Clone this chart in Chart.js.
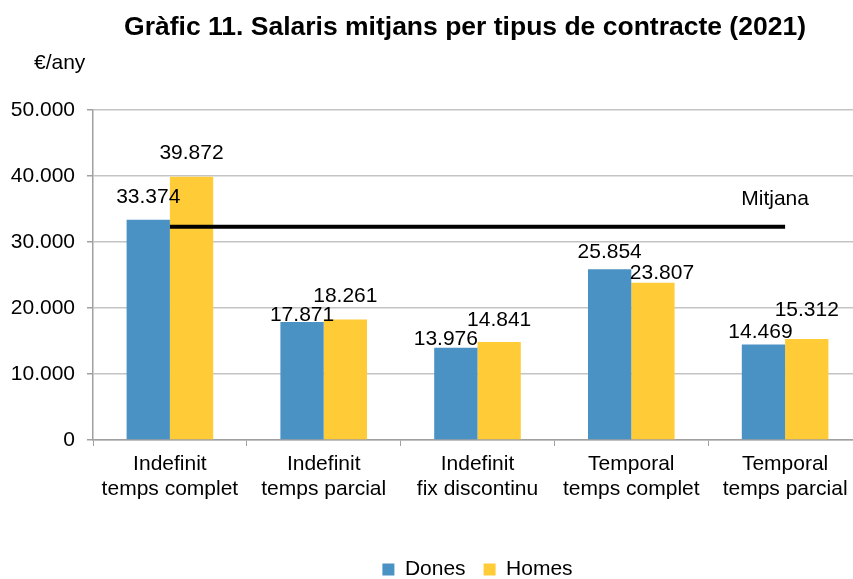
<!DOCTYPE html>
<html>
<head>
<meta charset="utf-8">
<script src="https://cdn.jsdelivr.net/npm/chart.js@4"></script>
<style>
  html, body { margin: 0; padding: 0; background: #fff; overflow: hidden; }
  #wrap { width: 930px; height: 590px; position: relative; }
</style>
</head>
<body>
<div id="wrap"><canvas id="grafic"></canvas></div>
<script>
// =====================================
// DADES
// =====================================

const categories = [
    ["Indefinit", "temps complet"],
    ["Indefinit", "temps parcial"],
    ["Indefinit", "fix discontinu"],
    ["Temporal", "temps complet"],
    ["Temporal", "temps parcial"]
];
const dones = [33374, 17871, 13976, 25854, 14469];
const homes = [39872, 18261, 14841, 23807, 15312];
const mitjana = [32300, 32300, 32300, 32300, 32300];
const yTicks = [0, 10000, 20000, 30000, 40000, 50000];

// petits desplaçaments manuals de les etiquetes (dx, alçada sobre la barra)
const ajustDones = [[0, 23], [0, 7], [-10, 9], [0, 17], [-3, 12]];
const ajustHomes = [[0, 24], [0, 23], [0, 22], [9, 10], [0, 29]];

const FONT = "'Liberation Sans', Arial, sans-serif";

function formatMiles(v) {
    return String(v).replace(/\B(?=(\d{3})+(?!\d))/g, ".");
}

// =====================================
// TEXTOS EXTRA (titol, unitat, etiquetes)
// =====================================

const textosPlugin = {
    id: "textos",
    afterDatasetsDraw(chart) {
        const ctx = chart.ctx;
        const area = chart.chartArea;
        ctx.save();
        ctx.fillStyle = "#000";
        ctx.textBaseline = "middle";

        // titol
        ctx.font = "bold 26.5px " + FONT;
        ctx.textAlign = "center";
        ctx.fillText("Gràfic 11. Salaris mitjans per tipus de contracte (2021)", 465, 28);

        // unitat
        ctx.font = "21px " + FONT;
        ctx.textAlign = "left";
        ctx.fillText("€/any", area.left - 59, area.top - 47);

        // etiquetes de valors
        ctx.textAlign = "center";
        [[0, ajustDones], [1, ajustHomes]].forEach(([di, ajust]) => {
            const meta = chart.getDatasetMeta(di);
            const vals = chart.data.datasets[di].data;
            meta.data.forEach((bar, i) => {
                const [dx, dy] = ajust[i];
                ctx.fillText(formatMiles(vals[i]), bar.x + dx, bar.y - dy);
            });
        });

        // etiqueta de la mitjana
        const lineMeta = chart.getDatasetMeta(2);
        const last = lineMeta.data[lineMeta.data.length - 1];
        ctx.fillText("Mitjana", last.x - 10, last.y - 28);
        ctx.restore();
    }
};

// =====================================
// GRAFIC
// =====================================

new Chart(document.getElementById("grafic"), {
    type: "bar",
    data: {
        labels: categories,
        datasets: [
            {
                label: "Dones",
                data: dones,
                backgroundColor: "#4A91C4",
                categoryPercentage: 0.563,
                barPercentage: 1,
                order: 1
            },
            {
                label: "Homes",
                data: homes,
                backgroundColor: "#FFCC37",
                categoryPercentage: 0.563,
                barPercentage: 1,
                order: 1
            },
            {
                type: "line",
                label: "Mitjana",
                data: mitjana,
                borderColor: "#000",
                borderWidth: 4,
                pointRadius: 0,
                fill: false,
                order: 0
            }
        ]
    },
    options: {
        responsive: true,
        maintainAspectRatio: false,
        animation: false,
        layout: { padding: { top: 110, right: 68, left: 0, bottom: 0 } },
        plugins: {
            title: { display: false },
            tooltip: { enabled: false },
            legend: {
                position: "bottom",
                fullSize: false,
                labels: {
                    filter: item => item.text !== "Mitjana",
                    boxWidth: 12,
                    boxHeight: 12,
                    padding: 18,
                    color: "#000",
                    font: { family: FONT, size: 21 }
                }
            }
        },
        scales: {
            x: {
                grid: {
                    drawOnChartArea: false,
                    drawTicks: true,
                    tickLength: 6,
                    tickColor: "#A0A0A0",
                    offset: true
                },
                border: { color: "#A0A0A0", width: 1.5 },
                ticks: {
                    color: "#000",
                    padding: 6,
                    maxRotation: 0,
                    font: { family: FONT, size: 21, lineHeight: 1.18 }
                },
                afterFit: s => { s.height = 101; }
            },
            y: {
                min: 0,
                max: 50000,
                afterBuildTicks: s => { s.ticks = yTicks.map(v => ({ value: v })); },
                grid: {
                    color: "#C4C4C4",
                    lineWidth: 1.5,
                    tickLength: 6,
                    tickColor: "#A0A0A0"
                },
                border: { color: "#A0A0A0", width: 1.5 },
                ticks: {
                    color: "#000",
                    padding: 12,
                    font: { family: FONT, size: 21 },
                    callback: v => formatMiles(v)
                },
                afterFit: s => { s.width = 93; }
            }
        }
    },
    plugins: [textosPlugin]
});
</script>
</body>
</html>
